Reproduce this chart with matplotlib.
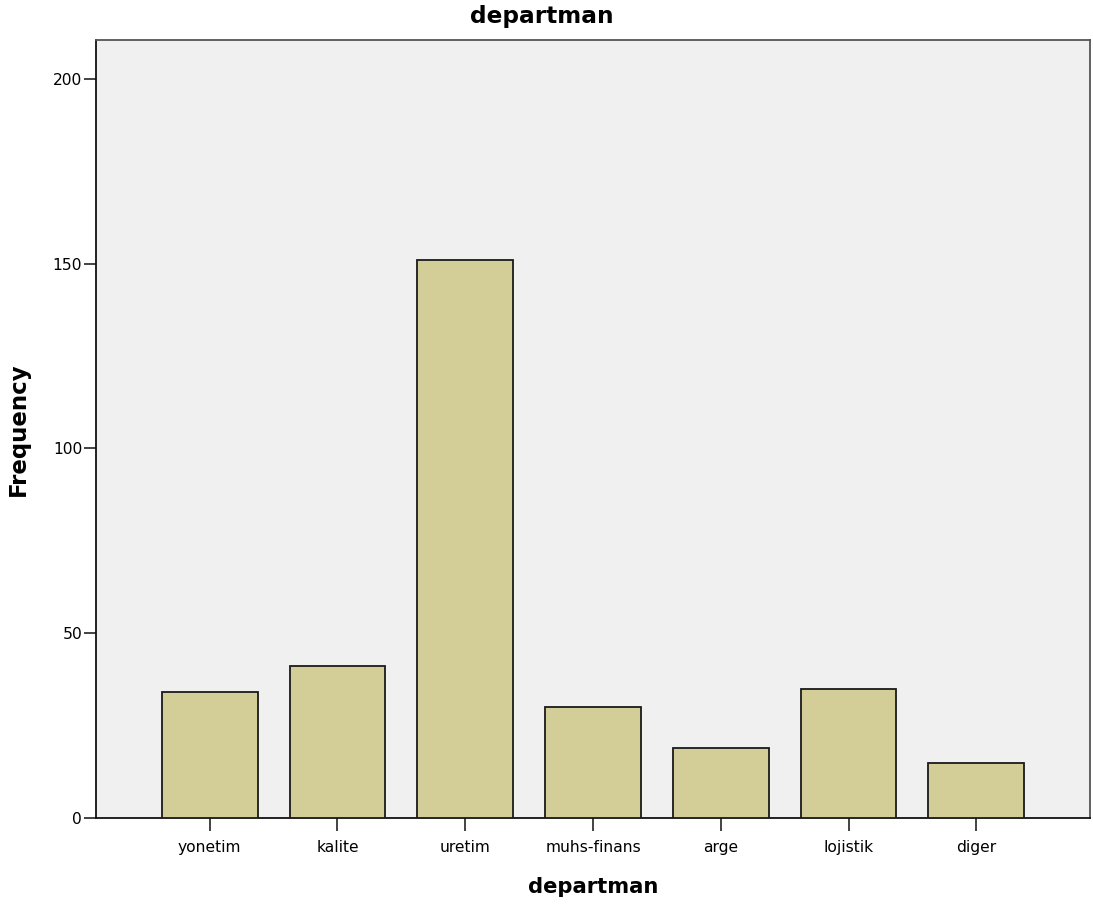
import matplotlib
matplotlib.use("Agg")
import matplotlib.pyplot as plt
import numpy as np

categories = ["yonetim", "kalite", "uretim", "muhs-finans", "arge", "lojistik", "diger"]
frequencies = [34, 41, 151, 30, 19, 35, 15]
yticks = [0, 50, 100, 150, 200]

plt.rcParams['font.family'] = ['DejaVu Sans']

fig = plt.figure(figsize=(10.93, 9.11), dpi=100)
ax = fig.add_axes([96/1093, 93/911, (1090-96)/1093, (818-40)/911])
ax.set_facecolor("#F0F0F0")

x = np.arange(len(categories))
ax.bar(x, frequencies, width=0.75, color="#D3CE97", edgecolor="#1a1a1a", linewidth=1.3, zorder=3)

ax.set_xlim(-0.89, len(categories) - 1 + 0.89)
ax.set_ylim(0, 210.5)
ax.set_xticks(x)
ax.set_xticklabels(categories, fontsize=11.2)
ax.set_yticks(yticks)
ax.set_yticklabels([str(v) for v in yticks], fontsize=11.2)
ax.tick_params(axis='both', direction='out', length=9, width=1.2, color="#222222")
ax.tick_params(axis='x', pad=7)
ax.tick_params(axis='y', pad=1)

for side in ["left", "bottom"]:
    ax.spines[side].set_color("#111111")
    ax.spines[side].set_linewidth(1.3)
for side in ["top", "right"]:
    ax.spines[side].set_color("#555555")
    ax.spines[side].set_linewidth(1.3)

ax.set_title("departman", fontsize=16.7, fontweight="bold", pad=12,
             x=(541.5 - 96) / 994)
ax.set_xlabel("departman", fontsize=15.2, fontweight="bold", labelpad=16)
ax.set_ylabel("Frequency", fontsize=16.5, fontweight="bold")
ax.yaxis.set_label_coords((30 - 96) / 994, 0.5)

fig.savefig("out.png", dpi=100, facecolor="white")
